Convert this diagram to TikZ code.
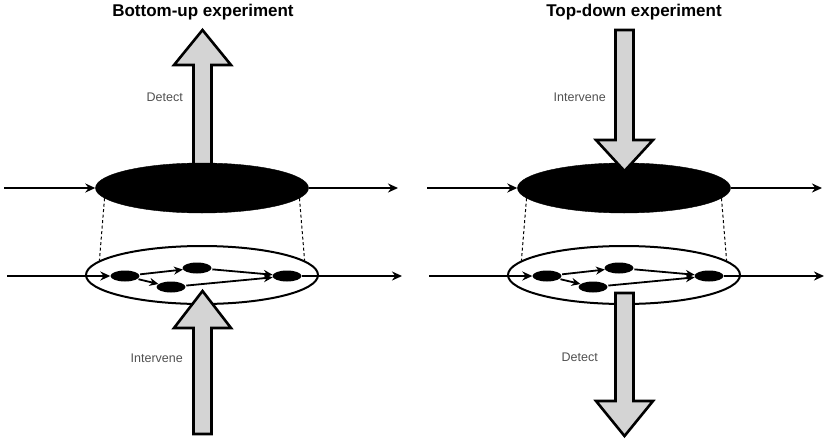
\documentclass[tikz,border=0pt]{standalone}
\usepackage{fontspec}
\setmainfont{Liberation Sans}
\usetikzlibrary{shapes.geometric,arrows.meta,calc}
\definecolor{bigfill}{HTML}{D4D4D4}
\definecolor{lbl}{HTML}{505050}
\tikzset{
  blackell/.style={ellipse, fill=black, draw=black, inner sep=0pt, minimum width=213pt, minimum height=50pt},
  whiteell/.style={ellipse, fill=white, draw=black, line width=2pt, inner sep=0pt, minimum width=232pt, minimum height=58pt},
  small/.style={ellipse, fill=black, inner sep=0pt, minimum width=29pt, minimum height=11pt},
  conn/.style={line width=1.8pt, -{Stealth[length=10pt,width=9pt]}},
  innerconn/.style={line width=1.8pt, -{Stealth[length=9pt,width=8pt]}, shorten <=1pt},
  bigarrow/.style={fill=bigfill, draw=black, line width=2.6pt, line join=miter},
  dashline/.style={line width=1pt, dashed, dash pattern=on 3pt off 2.5pt},
  title/.style={font=\bfseries\fontsize{17}{20}\selectfont},
  lab/.style={font=\fontsize{12.5}{15}\selectfont, text=lbl, anchor=east, inner sep=0pt},
}
\begin{document}
\begin{tikzpicture}[x=1pt,y=-1pt]
\useasboundingbox (0,0) rectangle (829,442);
\node[title] (t1) at (203,12) {Bottom-up experiment};
\node[title] (t2) at (634,12) {Top-down experiment};
% left top arrow (behind black ellipse)
\draw[bigarrow] (193.5,172)--(193.5,65)--(174,65)--(202.5,30)--(231,65)--(211.5,65)--(211.5,172)--cycle;
% left panel
\node[blackell] (A) at (202,188) {};
\node[whiteell] (B) at (202,275) {};
\node[small] (a1) at (125,276) {};
\node[small] (a2) at (197,268) {};
\node[small] (a3) at (171,287) {};
\node[small] (a4) at (287,276) {};
\coordinate (ai) at (4,188);
\coordinate (ao) at (398,188);
\coordinate (bi) at (7,276);
\coordinate (bo) at (402,276);
\draw[conn] (ai) -- (A.west);
\draw[conn] (A.east) -- (ao);
\draw[conn] (bi) -- (a1.west);
\draw[conn] (a4.east) -- (bo);
\draw[innerconn] (a1) -- (a2);
\draw[innerconn] (a1) -- (a3);
\draw[innerconn] (a2) -- (a4);
\draw[innerconn] (a3) -- (a4);
\draw[dashline] (A.186) -- (B.172);
\draw[dashline] (A.354) -- (B.8);
\draw[bigarrow] (193.5,434)--(193.5,328)--(174,328)--(202.5,291)--(231,328)--(211.5,328)--(211.5,434)--cycle;
\node[lab] (l1) at (183,97) {Detect};
\node[lab] (l2) at (183,358) {Intervene};
% right panel
\node[blackell] (C) at (624,188) {};
\node[whiteell] (D) at (624,275) {};
\node[small] (c1) at (547,276) {};
\node[small] (c2) at (619,268) {};
\node[small] (c3) at (593,287) {};
\node[small] (c4) at (709,276) {};
\coordinate (ci) at (427,188);
\coordinate (co) at (822,188);
\coordinate (di) at (429,276);
\coordinate (do) at (824,276);
\draw[conn] (ci) -- (C.west);
\draw[conn] (C.east) -- (co);
\draw[conn] (di) -- (c1.west);
\draw[conn] (c4.east) -- (do);
\draw[innerconn] (c1) -- (c2);
\draw[innerconn] (c1) -- (c3);
\draw[innerconn] (c2) -- (c4);
\draw[innerconn] (c3) -- (c4);
\draw[dashline] (C.186) -- (D.172);
\draw[dashline] (C.354) -- (D.8);
\draw[bigarrow] (615.5,30)--(615.5,140)--(596,140)--(624.5,171)--(653,140)--(633.5,140)--(633.5,30)--cycle;
\draw[bigarrow] (615.5,293)--(615.5,401)--(596,401)--(624.5,436)--(653,401)--(633.5,401)--(633.5,293)--cycle;
\node[lab] (r1) at (606,97) {Intervene};
\node[lab] (r2) at (598,357) {Detect};
\end{tikzpicture}
\end{document}
